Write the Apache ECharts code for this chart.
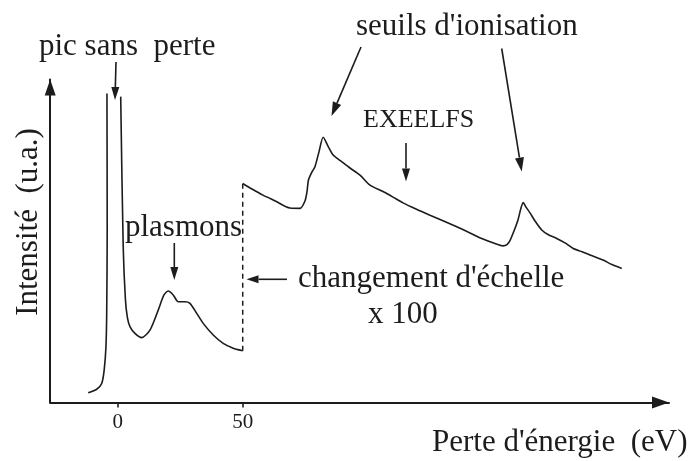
<!DOCTYPE html>
<html>
<head>
<meta charset="utf-8">
<script src="https://cdn.jsdelivr.net/npm/echarts@6/dist/echarts.min.js"></script>
<style>
  html, body { margin: 0; padding: 0; background: #ffffff; }
  #chart { width: 691px; height: 461px; }
</style>
</head>
<body>
<div id="chart"></div>
<script>
// Energy-loss spectrum: [energy loss (eV), intensity (a.u.)]
// Low-loss region (x1): zero-loss peak (off scale, open at the top) and plasmons
const lowLoss = [
  [-11.8, 3.0], [-8.4, 4.1], [-6.4, 5.9], [-5.4, 10.1], [-4.7, 17.3],
  [-4.4, 27.7], [-4.2, 53.4], [-4.3, 95.7],
  [-1.5, '-'],
  [1.2, 94.7], [2.2, 48.2], [3.1, 31.7], [3.9, 26.2], [4.9, 23.5],
  [6.9, 21.4], [9.6, 20.1], [12.9, 22.4], [16.2, 28.6], [18.5, 33.3],
  [20.2, 34.5], [22.2, 33.3], [24.2, 31.2], [26.9, 31.2], [28.9, 30.7],
  [31.6, 27.6], [34.2, 24.5], [38.2, 20.9], [42.2, 18.3], [46.2, 16.8],
  [50, 16.0]
];

// Core-loss region (x100): ionisation edges and EXELFS
const coreLoss = [
  [50, 67.8], [53.7, 66.1], [58.1, 64.2], [63.0, 62.4], [68.9, 60.2],
  [72.9, 60.1], [74.9, 62.4], [75.7, 65.2], [76.3, 68.9], [77.7, 71.4],
  [78.9, 73.0], [80.5, 77.6], [82.2, 82.1], [84.1, 79.4], [86.2, 76.6],
  [89.7, 74.5], [92.9, 72.6], [96.9, 70.4], [100.9, 67.3], [106.1, 65.3],
  [110.1, 63.6], [114.1, 61.8], [119.3, 59.9], [124.9, 58.0], [130.1, 56.3],
  [135.6, 54.4], [140.9, 52.5], [146.1, 50.6], [150.9, 49.2], [154.1, 48.5],
  [155.7, 48.9], [157.0, 50.3], [158.5, 53.1], [160.1, 56.5], [161.3, 60.2],
  [162.2, 61.9], [163.3, 60.5], [164.9, 58.7], [166.9, 56.2], [169.6, 53.4],
  [172.1, 52.0], [175.6, 50.8], [178.9, 49.4], [182.2, 47.7], [185.7, 46.7],
  [188.9, 45.7], [194.1, 44.1], [197.7, 42.7], [201.6, 41.5]
];

const xTicks = [0, 50];

// Scale-change marker joins the end of the x1 trace to the start of the x100 trace
const scaleChange = [lowLoss[lowLoss.length - 1], coreLoss[0]];

const INK = '#1c1c1c';
const SERIF = "'Liberation Serif', 'DejaVu Serif', serif";

function arrow(x1, y1, x2, y2, headLen, headW) {
  const dx = x2 - x1, dy = y2 - y1;
  const len = Math.sqrt(dx * dx + dy * dy);
  const ux = dx / len, uy = dy / len;
  const bx = x2 - ux * headLen, by = y2 - uy * headLen;
  const px = -uy * headW / 2, py = ux * headW / 2;
  return [
    { type: 'line', shape: { x1: x1, y1: y1, x2: bx, y2: by },
      style: { stroke: INK, lineWidth: 1.6 }, silent: true },
    { type: 'polygon', shape: { points: [[x2, y2], [bx + px, by + py], [bx - px, by - py]] },
      style: { fill: INK }, silent: true }
  ];
}

function label(text, x, y, size, extra) {
  return Object.assign({
    type: 'text', x: x, y: y, silent: true,
    style: { text: text, font: size + 'px ' + SERIF, fill: INK,
             align: 'left', verticalAlign: 'middle' }
  }, extra || {});
}

const chart = echarts.init(document.getElementById('chart'), null, { renderer: 'canvas' });

chart.setOption({
  backgroundColor: '#ffffff',
  animation: false,
  grid: { left: 50.2, right: 22, top: 79.5, bottom: 58.5, containLabel: false },
  xAxis: {
    type: 'value', min: -27, max: 220.5,
    splitLine: { show: false },
    axisLine: { show: true, onZero: false, symbol: ['none', 'triangle'], symbolSize: [12, 17],
                symbolOffset: [0, -8.5], lineStyle: { color: INK, width: 2 } },
    axisTick: { show: true, customValues: xTicks, length: 5, inside: false,
                lineStyle: { color: INK, width: 1.6 } },
    axisLabel: { show: true, customValues: xTicks, margin: 9,
                 fontFamily: SERIF, fontSize: 21, color: INK }
  },
  yAxis: {
    type: 'value', min: 0, max: 100,
    splitLine: { show: false },
    axisLine: { show: true, onZero: false, symbol: ['none', 'triangle'], symbolSize: [11, 16],
                symbolOffset: [0, -8], lineStyle: { color: INK, width: 2 } },
    axisTick: { show: false },
    axisLabel: { show: false }
  },
  series: [
    {
      name: 'x1', type: 'line', data: lowLoss, showSymbol: false, smooth: 0.25,
      connectNulls: false, clip: false,
      lineStyle: { color: INK, width: 1.6 }
    },
    {
      name: 'x100', type: 'line', data: coreLoss, showSymbol: false, smooth: 0.25,
      clip: false,
      lineStyle: { color: INK, width: 1.6 }
    },
    {
      name: 'changement', type: 'line', data: scaleChange, showSymbol: false,
      lineStyle: { color: INK, width: 1.5, type: [5, 4] }
    }
  ],
  graphic: [
    label('pic sans  perte', 39, 46.5, 31),
    label('seuils d\'ionisation', 356, 26.5, 31),
    label('EXEELFS', 363, 120.5, 26),
    label('plasmons', 125, 227.5, 31),
    label('changement d\'échelle', 298, 278.5, 31),
    label('x 100', 368, 314.5, 31),
    label('Perte d\'énergie  (eV)', 432, 443, 31),
    label('Intensité  (u.a.)', 29, 222, 31,
          { rotation: Math.PI / 2, style: { text: 'Intensité  (u.a.)', font: '31px ' + SERIF,
            fill: INK, align: 'center', verticalAlign: 'middle' } })
  ].concat(
    arrow(116, 62, 115, 100, 13, 8),
    arrow(361, 47, 331.5, 116, 14, 9),
    arrow(501.7, 48.5, 521.7, 171.5, 14, 9),
    arrow(406, 143, 406, 181.5, 13, 8),
    arrow(174.3, 243, 174.3, 280, 13, 8),
    arrow(287, 279.3, 246.5, 279.3, 12, 8)
  )
});
</script>
</body>
</html>
